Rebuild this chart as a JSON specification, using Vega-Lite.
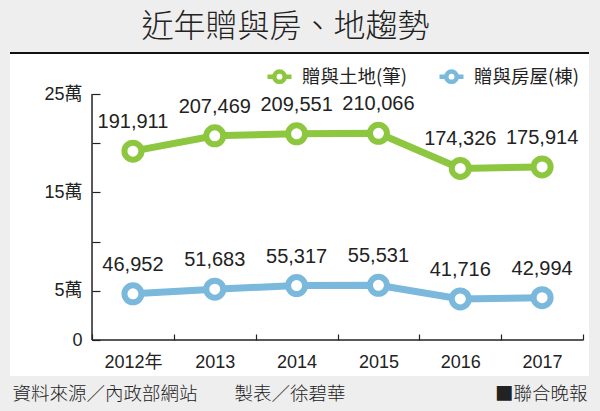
{
  "$schema": "https://vega.github.io/schema/vega-lite/v6.json",
  "width": 579,
  "height": 323,
  "autosize": {"type": "none"},
  "padding": {"left": 10, "top": 53, "right": 11, "bottom": 35},
  "background": "#eeeeee",
  "config": {
    "view": {"fill": "#ffffff", "stroke": null},
    "font": "Liberation Sans, Noto Sans CJK TC, sans-serif"
  },
  "title": {
    "text": "近年贈與房、地趨勢",
    "font": "Noto Sans CJK TC",
    "fontSize": 32,
    "fontWeight": 300,
    "color": "#222222",
    "anchor": "middle",
    "dx": -14,
    "offset": 8
  },
  "datasets": {
    "trend": [
      {"year": "2012年", "series": "贈與土地(筆)", "value": 191911},
      {"year": "2013", "series": "贈與土地(筆)", "value": 207469},
      {"year": "2014", "series": "贈與土地(筆)", "value": 209551},
      {"year": "2015", "series": "贈與土地(筆)", "value": 210066},
      {"year": "2016", "series": "贈與土地(筆)", "value": 174326},
      {"year": "2017", "series": "贈與土地(筆)", "value": 175914},
      {"year": "2012年", "series": "贈與房屋(棟)", "value": 46952},
      {"year": "2013", "series": "贈與房屋(棟)", "value": 51683},
      {"year": "2014", "series": "贈與房屋(棟)", "value": 55317},
      {"year": "2015", "series": "贈與房屋(棟)", "value": 55531},
      {"year": "2016", "series": "贈與房屋(棟)", "value": 41716},
      {"year": "2017", "series": "贈與房屋(棟)", "value": 42994}
    ],
    "axisline": [
      {"year": "2012年", "year_end": "2017"}
    ]
  },
  "layer": [
    {
      "data": {"name": "trend"},
      "mark": {
        "type": "line",
        "strokeWidth": 7,
        "point": {"filled": false, "fill": "white", "size": 289, "strokeWidth": 6}
      },
      "encoding": {
        "x": {
          "field": "year",
          "type": "ordinal",
          "bandPosition": 0.5,
          "scale": {"type": "band", "domain": ["2012年", "2013", "2014", "2015", "2016", "2017"], "paddingInner": 0, "paddingOuter": 0.5377, "align": 0.932},
          "axis": {
            "orient": "bottom",
            "offset": -36,
            "domain": false,
            "grid": false,
            "tickBand": "extent",
            "tickSize": -6,
            "tickColor": "#222222",
            "tickWidth": 1.2,
            "labelAngle": 0,
            "labelFontSize": 18,
            "labelColor": "#222222",
            "labelPadding": 19,
            "title": "資料來源／內政部網站　　製表／徐碧華",
            "titleX": 2,
            "titleY": 53,
            "titleAlign": "left",
            "titleBaseline": "middle",
            "titleFont": "Noto Sans CJK TC",
            "titleFontSize": 18.5,
            "titleFontWeight": 300,
            "titleColor": "#222222"
          }
        },
        "y": {
          "field": "value",
          "type": "quantitative",
          "scale": {"domain": [-36585, 291667], "nice": false, "zero": false},
          "axis": {
            "orient": "left",
            "offset": -82,
            "domain": false,
            "grid": false,
            "values": [0, 50000, 100000, 150000, 200000, 250000],
            "labelExpr": "datum.value == 0 ? '0' : (datum.value % 100000 == 50000 ? (datum.value / 10000) + '萬' : '')",
            "tickSize": -8,
            "tickColor": "#222222",
            "tickWidth": 1.2,
            "labelFontSize": 18,
            "labelColor": "#222222",
            "labelPadding": 18,
            "title": "■聯合晚報",
            "titleAngle": 0,
            "titleX": 495,
            "titleY": 340,
            "titleAlign": "right",
            "titleBaseline": "middle",
            "titleFont": "Noto Sans CJK TC",
            "titleFontSize": 18.5,
            "titleFontWeight": 300,
            "titleColor": "#222222"
          }
        },
        "color": {
          "field": "series",
          "type": "nominal",
          "scale": {"domain": ["贈與土地(筆)", "贈與房屋(棟)"], "range": ["#8dc63f", "#7ab8dc"]},
          "legend": {
            "orient": "top-right",
            "direction": "horizontal",
            "offset": 9,
            "title": null,
            "padding": 0,
            "labelFont": "Noto Sans CJK TC",
            "labelFontSize": 18.5,
            "labelColor": "#222222",
            "labelOffset": 8,
            "columnPadding": 22,
            "symbolType": "M-1,0L-0.43,0M0.43,0L1,0M0.43,0A0.43,0.43,0,1,1,-0.43,0A0.43,0.43,0,1,1,0.43,0Z",
            "symbolSize": 576,
            "symbolStrokeWidth": 4.5,
            "symbolFillColor": "white"
          }
        }
      }
    },
    {
      "data": {"name": "trend"},
      "mark": {"type": "text", "dy": -29, "fontSize": 20, "color": "#222222", "baseline": "middle", "font": "Liberation Sans"},
      "encoding": {
        "x": {"field": "year", "type": "ordinal", "bandPosition": 0.5},
        "y": {"field": "value", "type": "quantitative"},
        "text": {"field": "value", "type": "quantitative", "format": ","}
      }
    },
    {
      "data": {"name": "axisline"},
      "mark": {"type": "rule", "color": "#111111", "strokeWidth": 2},
      "encoding": {
        "y": {"datum": 291667, "type": "quantitative"}
      }
    },
    {
      "data": {"name": "axisline"},
      "mark": {"type": "rule", "color": "#222222", "strokeWidth": 1.5},
      "encoding": {
        "x": {"field": "year", "type": "ordinal", "bandPosition": 0},
        "y": {"datum": 0, "type": "quantitative"},
        "y2": {"datum": 250000}
      }
    },
    {
      "data": {"name": "axisline"},
      "mark": {"type": "rule", "color": "#222222", "strokeWidth": 1.5},
      "encoding": {
        "x": {"field": "year", "type": "ordinal", "bandPosition": 0},
        "x2": {"field": "year_end", "bandPosition": 1},
        "y": {"datum": 0, "type": "quantitative"}
      }
    }
  ]
}
